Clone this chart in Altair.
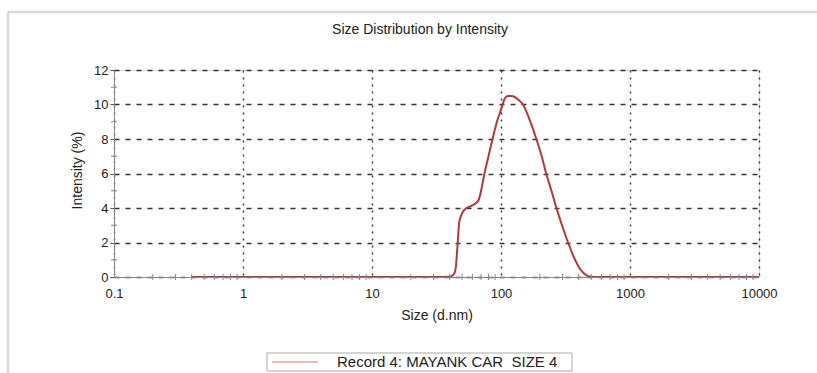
import altair as alt
import pandas as pd

# ---- data ----
size_nm = [0.4, 1, 10, 30, 40, 43, 44.7, 45.9, 47.5, 50, 53, 58, 63, 67, 71, 74,
           80, 86, 93, 100, 107, 113, 120, 127, 135, 148, 167, 188, 205, 224,
           246, 269, 300, 331, 365, 400, 440, 490, 600, 1000, 3000, 10000]
intensity = [0, 0, 0, 0, 0.02, 0.15, 0.6, 1.7, 3.2, 3.7, 3.95, 4.1, 4.25, 4.45, 5.2, 5.9,
             7.0, 8.0, 9.0, 9.7, 10.35, 10.5, 10.5, 10.45, 10.3, 10.0, 9.1, 8.0, 7.1, 6.0,
             5.0, 4.0, 2.9, 2.0, 1.2, 0.6, 0.2, 0.02, 0, 0, 0, 0]

x_ticks = [0.1, 1, 10, 100, 1000, 10000]
y_ticks = [0, 2, 4, 6, 8, 10, 12]
x_minor = [0.2, 0.3, 0.4, 0.5, 0.6, 0.7, 0.8, 0.9,
           2, 3, 4, 5, 6, 7, 8, 9,
           20, 30, 40, 50, 60, 70, 80, 90,
           200, 300, 400, 500, 600, 700, 800, 900,
           2000, 3000, 4000, 5000, 6000, 7000, 8000, 9000]
y_minor = [1, 3, 5, 7, 9, 11]

chart_title = "Size Distribution by Intensity"
x_title = "Size (d.nm)"
y_title = "Intensity (%)"
legend_label = "Record 4: MAYANK CAR\u00a0 SIZE 4"

FONT = "Liberation Sans"
W, H = 645, 207

df = pd.DataFrame({"size": size_nm, "intensity": intensity})
xscale = alt.Scale(type="log", domain=[0.1, 10000], nice=False)
yscale = alt.Scale(domain=[0, 12], nice=False, zero=True)

x_axis = alt.Axis(values=x_ticks, format="~g", title=x_title,
                  grid=True, gridDash=[2, 5], gridColor="#333", gridWidth=1.4,
                  ticks=False, labelPadding=10, labelFontSize=13, labelFont=FONT,
                  labelColor="#222", domainColor="#888", domainWidth=1,
                  titleFont=FONT, titleFontSize=14, titleFontWeight="normal",
                  titleColor="#222", titleY=38, titleBaseline="middle",
                  labelFlush=False)
y_axis = alt.Axis(values=y_ticks, title=y_title,
                  grid=True, gridDash=[5, 6], gridColor="#333", gridWidth=1.4,
                  tickSize=4, tickColor="#555", labelPadding=2,
                  labelFontSize=13, labelFont=FONT, labelColor="#222",
                  domainColor="#888", domainWidth=1,
                  titleFont=FONT, titleFontSize=14, titleFontWeight="normal",
                  titleColor="#222", titleX=-37, titleY=100,
                  titleAlign="center", titleBaseline="middle", labelFlush=False)

line = alt.Chart(df).mark_line(color="#b23a3a", strokeWidth=2, interpolate="monotone", clip=True).encode(
    x=alt.X("size:Q", scale=xscale, axis=x_axis),
    y=alt.Y("intensity:Q", scale=yscale, axis=y_axis),
)

xminor_df = pd.DataFrame({"v": x_minor})
xminor = alt.Chart(xminor_df).mark_rule(color="#888", strokeWidth=1).encode(
    x=alt.X("v:Q", scale=xscale, axis=x_axis),
    y=alt.value(H - 3), y2=alt.value(H + 3),
)
yminor_df = pd.DataFrame({"v": y_minor})
yminor = alt.Chart(yminor_df).mark_rule(color="#888", strokeWidth=1).encode(
    y=alt.Y("v:Q", scale=yscale, axis=y_axis),
    x=alt.value(-3), x2=alt.value(3),
)

one = pd.DataFrame({"t": [chart_title], "l": [legend_label]})
title_txt = alt.Chart(one).mark_text(font=FONT, fontSize=14, color="#222",
                                     align="center", baseline="middle").encode(
    text="t:N", x=alt.value(306), y=alt.value(-40))

frame_left = alt.Chart(one).mark_rule(color="#d8d8d8", strokeWidth=2.5).encode(
    x=alt.value(-106), y=alt.value(-58), y2=alt.value(310))
frame_top = alt.Chart(one).mark_rule(color="#d8d8d8", strokeWidth=2.5).encode(
    x=alt.value(-106), x2=alt.value(720), y=alt.value(-58))

leg_box = alt.Chart(one).mark_rect(fill="white", stroke="#aaa", strokeWidth=1).encode(
    x=alt.value(153), x2=alt.value(458), y=alt.value(283), y2=alt.value(301))
leg_line = alt.Chart(one).mark_rule(color="#e07070", strokeWidth=1.2).encode(
    x=alt.value(158), x2=alt.value(204), y=alt.value(292))
leg_text = alt.Chart(one).mark_text(font=FONT, fontSize=15, color="#222",
                                    align="left", baseline="middle").encode(
    text="l:N", x=alt.value(223), y=alt.value(292))

chart = alt.layer(line, xminor, yminor, frame_left, frame_top, title_txt,
                  leg_box, leg_line, leg_text).properties(
    width=W, height=H,
    autosize=alt.AutoSizeParams(type="none"),
    padding={"left": 114, "top": 70, "right": 58, "bottom": 96},
).configure_view(strokeWidth=0, stroke="transparent").configure(background="white")

chart.save("out.html", embed_options={"renderer": "svg", "actions": False})
